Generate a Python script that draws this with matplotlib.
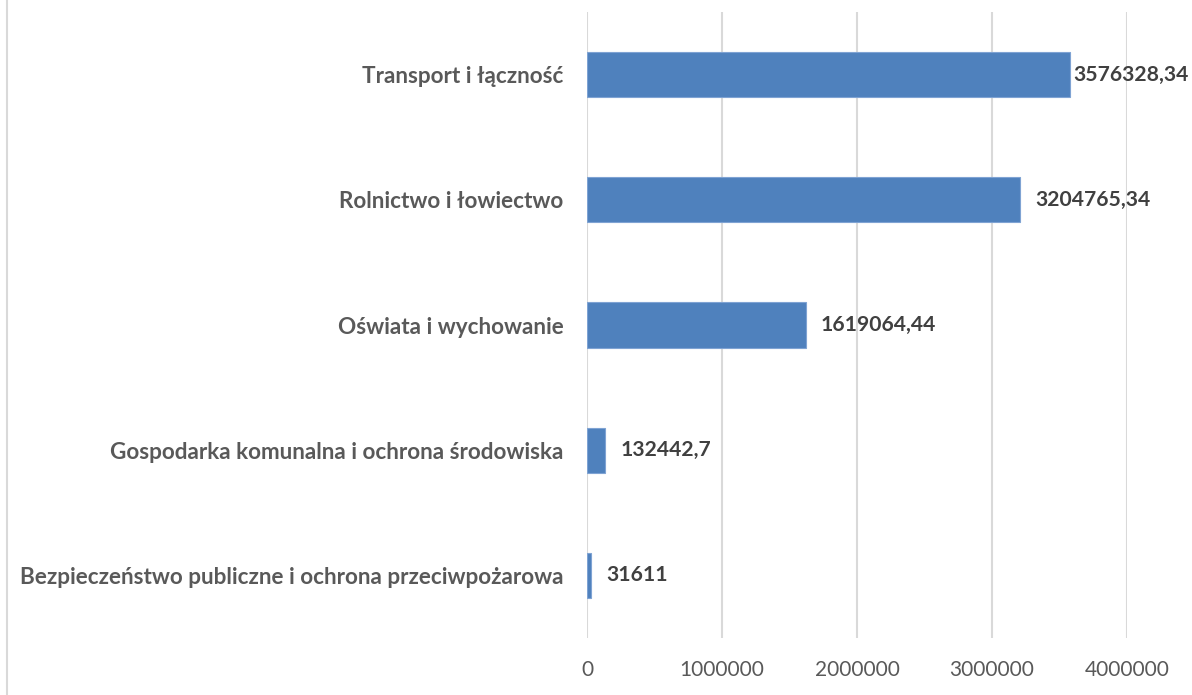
import matplotlib
matplotlib.use("Agg")
import matplotlib.pyplot as plt
from matplotlib.lines import Line2D

categories = [
    "Bezpieczeństwo publiczne i ochrona przeciwpożarowa",
    "Gospodarka komunalna i ochrona środowiska",
    "Oświata i wychowanie",
    "Rolnictwo i łowiectwo",
    "Transport i łączność",
]
values = [31611, 132442.7, 1619064.44, 3204765.34, 3576328.34]
value_labels = ["31611", "132442,7", "1619064,44", "3204765,34", "3576328,34"]
xticks = [0, 1000000, 2000000, 3000000, 4000000]
xtick_labels = ["0", "1000000", "2000000", "3000000", "4000000"]

plt.rcParams['font.family'] = ['Lato', 'DejaVu Sans']

fig = plt.figure(figsize=(11.92, 6.95), dpi=100)
ax = fig.add_axes([587/1192, 1 - 638/695, (1127 - 587)/1192, (638 - 12)/695])

ypos = list(range(len(categories)))
ax.barh(ypos, values, height=0.36, color="#4F81BD", edgecolor="#7FA3D3",
        linewidth=0.8, zorder=3)

ax.set_xlim(0, 4000000)
ax.set_ylim(-0.5, len(categories) - 0.5)
ax.set_xticks(xticks)
ax.set_xticklabels(xtick_labels, fontsize=15, color="#595959")
ax.set_yticks(ypos)
ax.set_yticklabels(categories, fontsize=16.2, color="#595959", fontweight="bold")
ax.tick_params(axis="y", length=0, pad=17)
ax.tick_params(axis="x", length=0, pad=16)
for s in ax.spines.values():
    s.set_visible(False)
ax.grid(axis="x", color="#D9D9D9", linewidth=1.5, zorder=0)
ax.set_axisbelow(True)

for i, (v, lab) in enumerate(zip(values, value_labels)):
    off = 2.5 if v > 3400000 else 11
    ax.annotate(lab, xy=(v, i), xytext=(off, 0), textcoords="offset points",
                ha="left", va="center", fontsize=15.2, fontweight="bold",
                color="#404040", zorder=4, annotation_clip=False)

fig.add_artist(Line2D([6.5/1192, 6.5/1192], [0, 1], transform=fig.transFigure,
                      color="#D9D9D9", linewidth=1.5))

fig.savefig("out.png", dpi=100)
